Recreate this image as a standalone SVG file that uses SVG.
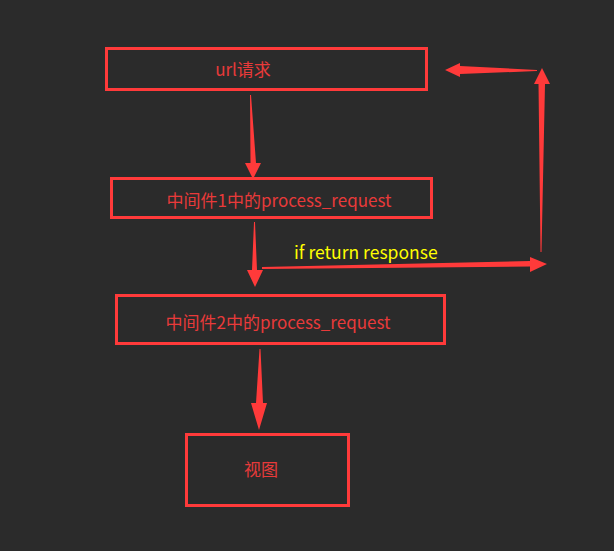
<svg xmlns="http://www.w3.org/2000/svg" width="614" height="551" viewBox="0 0 614 551">
<style>
.box{fill:none;stroke:#ff3a3a;stroke-width:3}
.lbl{fill:#e83a3a;font-family:"Noto Sans CJK SC","Microsoft YaHei",sans-serif;font-size:17px;text-anchor:middle}
.arr{fill:#ff3a3a}
.cond{fill:#ffff00;font-family:"Noto Sans CJK SC","Liberation Sans",sans-serif;font-size:17.5px}
</style>
<rect width="614" height="551" fill="#2b2b2b"/>
<g id="n1"><rect class="box" x="106.5" y="48.5" width="320" height="41"/><text class="lbl" x="243" y="76">url请求</text></g>
<g id="n2"><rect class="box" x="111.5" y="178.5" width="320" height="39"/><text class="lbl" x="279" y="207">中间件1中的process_request</text></g>
<g id="n3"><rect class="box" x="116.5" y="295.5" width="328" height="48"/><text class="lbl" x="278" y="329">中间件2中的process_request</text></g>
<g id="n4"><rect class="box" x="186.5" y="434.5" width="162" height="71"/><text class="lbl" x="261" y="476">视图</text></g>
<g id="connectors">
<polygon class="arr" points="250,95 251,95 256,163 261,163 253,179 245,163 250.5,163"/>
<polygon class="arr" points="254,222 255,222 257,270 263,270 255,287 247,270 252,270"/>
<polygon class="arr" points="262,267 262,269 530,266.5 530,272 547,264 530,257 530,261"/>
<polygon class="arr" points="540.5,252 541.5,252 545,84 550,84 542,68 534,84 538.5,84"/>
<polygon class="arr" points="537,70 537,71 460,74 460,77 445,70 460,63 460,66"/>
<polygon class="arr" points="259.5,349 260.5,349 263,403 267,403 259,430 251,403 256,403"/>
<text class="cond" x="294" y="259">if return response</text>
</g>
</svg>
